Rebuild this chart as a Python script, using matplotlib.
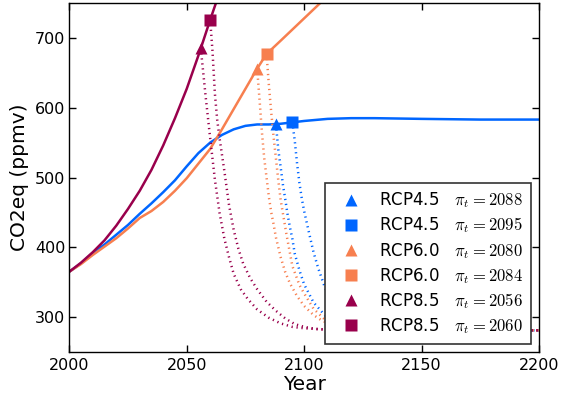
import numpy as np
import matplotlib
matplotlib.use("Agg")
import matplotlib.pyplot as plt

plt.rcParams['mathtext.fontset'] = 'cm'
plt.rcParams['font.family'] = ['DejaVu Sans']

BLUE = '#0066ff'
ORANGE = '#f77f4f'
MAROON = '#99004c'

# solid concentration pathways (year, ppmv)
rcp45_years = [2000, 2005, 2010, 2015, 2020, 2025, 2030, 2035, 2040, 2045, 2050, 2055, 2060,
               2065, 2070, 2075, 2080, 2085, 2090, 2095, 2100, 2110, 2120, 2130, 2150, 2175, 2200]
rcp45_vals = [365, 377, 392, 404, 418, 432, 448, 463, 479, 496, 516, 535, 550,
              561, 569, 574, 576, 576, 577, 579, 581, 584, 585, 585, 584, 583, 583]

rcp60_years = [2000, 2005, 2010, 2015, 2020, 2025, 2030, 2035, 2040, 2045, 2050, 2055, 2060,
               2065, 2070, 2075, 2080, 2084, 2090, 2100, 2110]
rcp60_vals = [365, 376, 389, 401, 413, 427, 442, 452, 465, 481, 499, 520, 541,
              569, 598, 627, 656, 677, 696, 728, 760]

rcp85_years = [2000, 2005, 2010, 2015, 2020, 2025, 2030, 2035, 2040, 2045, 2050, 2055, 2056, 2060, 2065]
rcp85_vals = [365, 378, 393, 410, 431, 455, 481, 511, 546, 585, 627, 675, 685, 726, 775]

# decay after emissions stop (dotted)
rcp45_a_years = [2088, 2089, 2090, 2091, 2092, 2093, 2094, 2095, 2096, 2098, 2100, 2104, 2109, 2115, 2125, 2150, 2200]
rcp45_a_vals = [576, 540, 515, 489, 468, 446, 428, 412, 391, 367, 347, 321, 302, 291, 284, 281, 281]
rcp45_b_years = [2095, 2096, 2097, 2098, 2099, 2100, 2102, 2104, 2106, 2109, 2112, 2116, 2120, 2130, 2150, 2200]
rcp45_b_vals = [579, 553, 520, 492, 470, 452, 422, 393, 370, 341, 322, 305, 295, 285, 281, 281]

rcp60_a_years = [2080, 2081, 2082, 2083, 2084, 2085, 2086, 2087, 2088, 2090, 2092, 2094, 2097, 2100,
                 2104, 2108, 2115, 2125, 2150, 2200]
rcp60_a_vals = [656, 612, 566, 528, 500, 472, 450, 433, 414, 386, 364, 348, 330, 316,
                303, 294, 287, 283, 281, 281]
rcp60_b_years = [2084, 2085, 2086, 2087, 2088, 2089, 2090, 2091, 2092.5, 2095, 2098, 2100,
                 2104, 2109, 2115, 2125, 2150, 2200]
rcp60_b_vals = [677, 632, 593, 558, 527, 496, 468, 448, 418, 373, 346, 334,
                312, 296, 288, 283, 281, 281]

rcp85_a_years = [2056, 2058, 2060, 2062, 2064, 2066, 2068, 2070, 2073, 2076, 2080, 2085, 2090,
                 2095, 2100, 2110, 2120, 2150, 2200]
rcp85_a_vals = [685, 618, 556, 497, 449, 413, 386, 362, 340, 326, 311, 299, 291,
                286, 284, 282, 281, 281, 281]
rcp85_b_years = [2060, 2061, 2062, 2063, 2064, 2066, 2068, 2070, 2072, 2074, 2077, 2080, 2084,
                 2088, 2092, 2096, 2100, 2105, 2110, 2120, 2150, 2200]
rcp85_b_vals = [726, 680, 620, 582, 556, 510, 461, 425, 398, 377, 356, 340, 322,
                309, 298, 290, 286, 283, 282, 281, 281, 281]

fig = plt.figure(figsize=(5.62, 4.01), dpi=100)
ax = fig.add_axes([0.1233, 0.1222, 0.8357, 0.8703])

dot = (0, (0.5, 1.5))
ax.plot(rcp45_years, rcp45_vals, color=BLUE, lw=1.8)
ax.plot(rcp60_years, rcp60_vals, color=ORANGE, lw=1.8)
ax.plot(rcp85_years, rcp85_vals, color=MAROON, lw=1.8)

ax.plot(rcp45_a_years, rcp45_a_vals, color=BLUE, lw=1.8, ls=dot)
ax.plot(rcp45_b_years, rcp45_b_vals, color=BLUE, lw=1.8, ls=dot)
ax.plot(rcp60_a_years, rcp60_a_vals, color=ORANGE, lw=1.8, ls=dot)
ax.plot(rcp60_b_years, rcp60_b_vals, color=ORANGE, lw=1.8, ls=dot)
ax.plot(rcp85_a_years, rcp85_a_vals, color=MAROON, lw=1.8, ls=dot)
ax.plot(rcp85_b_years, rcp85_b_vals, color=MAROON, lw=1.8, ls=dot)

ms = 8.5
ax.plot(rcp45_a_years[0], rcp45_a_vals[0], '^', color=BLUE, ms=ms, mec='none',
        label=r'RCP4.5   $\pi_t = %d$' % rcp45_a_years[0])
ax.plot(rcp45_b_years[0], rcp45_b_vals[0], 's', color=BLUE, ms=ms, mec='none',
        label=r'RCP4.5   $\pi_t = %d$' % rcp45_b_years[0])
ax.plot(rcp60_a_years[0], rcp60_a_vals[0], '^', color=ORANGE, ms=ms, mec='none',
        label=r'RCP6.0   $\pi_t = %d$' % rcp60_a_years[0])
ax.plot(rcp60_b_years[0], rcp60_b_vals[0], 's', color=ORANGE, ms=ms, mec='none',
        label=r'RCP6.0   $\pi_t = %d$' % rcp60_b_years[0])
ax.plot(rcp85_a_years[0], rcp85_a_vals[0], '^', color=MAROON, ms=ms, mec='none',
        label=r'RCP8.5   $\pi_t = %d$' % rcp85_a_years[0])
ax.plot(rcp85_b_years[0], rcp85_b_vals[0], 's', color=MAROON, ms=ms, mec='none',
        label=r'RCP8.5   $\pi_t = %d$' % rcp85_b_years[0])

ax.set_xlim(2000, 2200)
ax.set_ylim(250, 750)
ax.set_xticks([2000, 2050, 2100, 2150, 2200])
ax.set_yticks([300, 400, 500, 600, 700])
ax.tick_params(direction='in', length=5, width=1, top=True, right=True, labelsize=11.5, pad=4)
ax.tick_params(axis='y', pad=3)
for s in ax.spines.values():
    s.set_linewidth(1)
ax.set_xlabel('Year', fontsize=14.5, labelpad=2)
ax.set_ylabel('CO2eq (ppmv)', fontsize=14.5, labelpad=4)

leg = ax.legend(loc='lower right', numpoints=1, fontsize=12, fancybox=False, framealpha=1,
                edgecolor='0.2', borderaxespad=0.5, labelspacing=0.32, handlelength=2.2,
                handletextpad=0.6, borderpad=0.45)
leg.get_frame().set_linewidth(1.2)

fig.savefig('out.png', dpi=100)
